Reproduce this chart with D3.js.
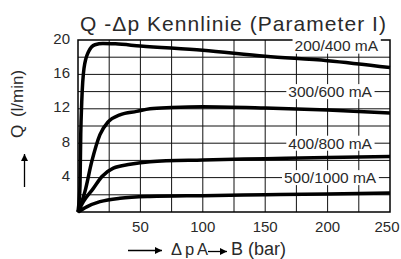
<!DOCTYPE html>
<html>
<head>
<script src="https://d3js.org/d3.v7.min.js"></script>
<style>
  body { margin: 0; background: white; }
  text { font-family: "Liberation Sans", Arial, sans-serif; fill: #2a2a2a; }
</style>
</head>
<body>
<svg class="target" width="401" height="259"></svg>
<script>

// data
dpTicks = [50, 100, 150, 200, 250]
qTicks = [4, 8, 12, 16, 20]

dp1 = [0, 1, 1.6, 2.2, 3, 4.8, 8.3, 13.6, 20, 30, 50, 100, 150, 200, 250]
q1  = [0, 1.5, 3.1, 9, 12.8, 16.7, 18.6, 19.45, 19.6, 19.55, 19.3, 18.8, 18.1, 17.6, 16.8]
dp2 = [0, 5.6, 11, 17.6, 24.3, 33.6, 47, 57.7, 75, 100, 150, 200, 250]
q2  = [0, 2.4, 5.85, 9, 10.5, 11.3, 11.7, 12.0, 12.15, 12.25, 12.1, 11.85, 11.5]
dp3 = [0, 4.3, 12.3, 19, 28.3, 41.7, 57.7, 100, 150, 200, 250]
q3  = [0, 1.2, 2.75, 4.1, 5.1, 5.55, 5.85, 6.05, 6.2, 6.35, 6.45]
dp4 = [0, 7, 17.6, 33.6, 57.7, 100, 150, 200, 250]
q4  = [0, 0.6, 1.2, 1.6, 1.8, 1.9, 2.0, 2.1, 2.2]

labelText = ['200/400 mA', '300/600 mA', '400/800 mA', '500/1000 mA']
labelDp   = [207, 202, 202, 202]
labelQ    = [19.4, 14, 8, 4]

margin = ({top: 40, right: 11, bottom: 47, left: 78})
width = 401
height = 259

svg = d3.select('.target')

x = d3.scaleLinear().domain([0, 250]).range([margin.left, width - margin.right])
y = d3.scaleLinear().domain([0, 20]).range([height - margin.bottom, margin.top])

// grid
svg.append('g')
  .selectAll('line')
  .data(d3.range(25, 250, 25))
  .join('line')
    .attr('x1', d => x(d)).attr('x2', d => x(d))
    .attr('y1', y(0)).attr('y2', y(20))
    .attr('stroke', '#111').attr('stroke-width', 1)

svg.append('g')
  .selectAll('line')
  .data(d3.range(2, 20, 2))
  .join('line')
    .attr('y1', d => y(d)).attr('y2', d => y(d))
    .attr('x1', x(0)).attr('x2', x(250))
    .attr('stroke', '#111').attr('stroke-width', 1)

// frame
svg.append('rect')
  .attr('x', x(0)).attr('y', y(20))
  .attr('width', x(250) - x(0)).attr('height', y(0) - y(20))
  .attr('fill', 'none').attr('stroke', '#000').attr('stroke-width', 1.5)

// label boxes (white, cover grid)
labels = svg.append('g')
lt = labels.selectAll('text')
  .data(labelText)
  .join('text')
    .attr('x', (d, i) => x(labelDp[i]))
    .attr('y', (d, i) => y(labelQ[i]) + 5.5)
    .attr('text-anchor', 'middle')
    .style('font-size', '15.5px')
    .text(d => d)

lt.each(function(d, i) {
  b = this.getBBox()
  labels.insert('rect', 'text')
    .attr('x', b.x - 2).attr('y', i == 0 ? y(20) - 6 : b.y + 1)
    .attr('width', b.width + 4)
    .attr('height', i == 0 ? b.y + b.height - y(20) + 6 : b.height - 2)
    .attr('fill', 'white')
})

// curves
line = d3.line()
  .x(d => x(d[0]))
  .y(d => y(d[1]))
  .curve(d3.curveMonotoneX)

series = [[dp1, q1], [dp2, q2], [dp3, q3], [dp4, q4]]
svg.append('g')
  .selectAll('path')
  .data(series)
  .join('path')
    .attr('d', s => line(d3.zip(s[0], s[1])))
    .attr('fill', 'none')
    .attr('stroke', '#000')
    .attr('stroke-width', 3.5)
    .attr('stroke-linejoin', 'round')

// tick labels
svg.append('g')
  .selectAll('text')
  .data(qTicks)
  .join('text')
    .attr('x', 70)
    .attr('y', d => y(d) + 3.5)
    .attr('text-anchor', 'end')
    .style('font-size', '15px')
    .text(d => d)

svg.append('g')
  .selectAll('text')
  .data(dpTicks)
  .join('text')
    .attr('x', d => Math.min(x(d), 387))
    .attr('y', 231.5)
    .attr('text-anchor', 'middle')
    .style('font-size', '15px')
    .text(d => d)

// title
svg.append('text')
  .attr('x', 80).attr('y', 31)
  .style('font-size', '21px')
  .attr('textLength', 306)
  .attr('lengthAdjust', 'spacing')
  .text('Q -Δp Kennlinie (Parameter I)')

// arrow marker
svg.append('defs').append('marker')
  .attr('id', 'ah')
  .attr('viewBox', '0 0 10 10')
  .attr('refX', 10).attr('refY', 5)
  .attr('markerWidth', 10).attr('markerHeight', 7)
  .attr('markerUnits', 'userSpaceOnUse')
  .attr('orient', 'auto')
  .append('path').attr('d', 'M0,0L10,5L0,10Z').attr('fill', '#000')

// x axis title
svg.append('line')
  .attr('x1', 128).attr('x2', 162).attr('y1', 250.5).attr('y2', 250.5)
  .attr('stroke', '#000').attr('stroke-width', 1.3)
  .attr('marker-end', 'url(#ah)')
xt = svg.append('g').style('font-size', '16.5px')
xt.append('text').attr('x', 171).attr('y', 254.5).text('Δ')
xt.append('text').attr('x', 185).attr('y', 254.5).text('p')
xt.append('text').attr('x', 197).attr('y', 254.5).text('A')
svg.append('line')
  .attr('x1', 208).attr('x2', 227).attr('y1', 251.5).attr('y2', 251.5)
  .attr('stroke', '#000').attr('stroke-width', 1.3)
  .attr('marker-end', 'url(#ah)')
xt.append('text').attr('x', 231).attr('y', 254.5)
  .style('font-size', '18px')
  .text('B (bar)')

// y axis title
svg.append('text')
  .attr('transform', 'translate(23,93.5) rotate(-90)')
  .attr('text-anchor', 'middle')
  .style('font-size', '17px')
  .text('(l/min)')
svg.append('text')
  .attr('transform', 'translate(23,131.5) rotate(-90)')
  .attr('text-anchor', 'middle')
  .style('font-size', '17px')
  .text('Q')
svg.append('line')
  .attr('x1', 24.5).attr('x2', 24.5).attr('y1', 187).attr('y2', 154)
  .attr('stroke', '#000').attr('stroke-width', 1.3)
  .attr('marker-end', 'url(#ah)')

</script>
</body>
</html>
